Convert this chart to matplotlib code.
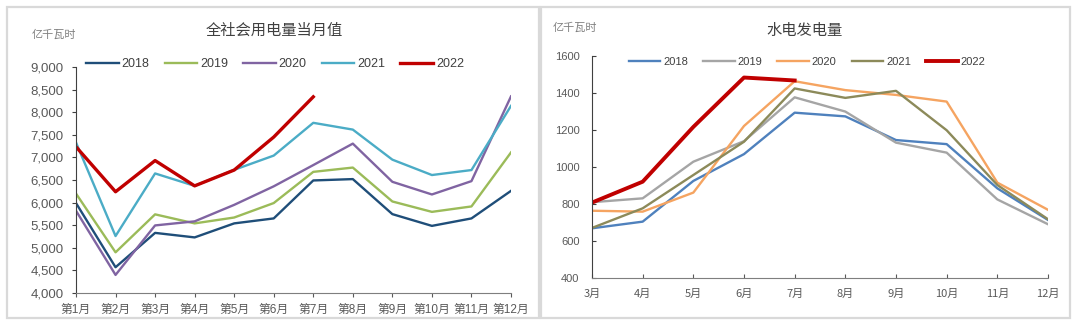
import numpy as np
import matplotlib.pyplot as plt
from matplotlib.patches import Rectangle

plt.rcParams['font.family'] = ['Liberation Sans', 'Noto Sans CJK SC']

# left panel: monthly total electricity consumption (亿千瓦时)
use_months = ['第1月', '第2月', '第3月', '第4月', '第5月', '第6月',
              '第7月', '第8月', '第9月', '第10月', '第11月', '第12月']
use_2018 = [5990, 4570, 5330, 5230, 5540, 5650, 6490, 6520, 5745, 5485, 5650, 6260]
use_2019 = [6200, 4900, 5740, 5540, 5670, 5990, 6680, 6775, 6025, 5795, 5915, 7110]
use_2020 = [5820, 4400, 5495, 5585, 5950, 6360, 6830, 7305, 6460, 6180, 6475, 8350]
use_2021 = [7330, 5260, 6645, 6370, 6725, 7040, 7765, 7615, 6950, 6610, 6720, 8140]
use_2022 = [7235, 6240, 6930, 6370, 6720, 7450, 8340]

# right panel: hydro power generation (亿千瓦时), March to December
hydro_months = ['3月', '4月', '5月', '6月', '7月', '8月', '9月', '10月', '11月', '12月']
hydro_2018 = [667, 703, 923, 1068, 1292, 1272, 1144, 1122, 883, 712]
hydro_2019 = [808, 829, 1027, 1138, 1375, 1298, 1130, 1076, 823, 689]
hydro_2020 = [762, 757, 860, 1220, 1462, 1414, 1388, 1352, 914, 767]
hydro_2021 = [669, 775, 955, 1135, 1423, 1372, 1410, 1197, 901, 716]
hydro_2022 = [806, 919, 1215, 1482, 1466]

years = ['2018', '2019', '2020', '2021', '2022']

fig = plt.figure(figsize=(10.8, 3.27), dpi=100)

# panel frames
for x0, x1 in [(7, 539), (541, 1070)]:
    fig.add_artist(Rectangle((x0 / 1080, 1 - 318 / 327), (x1 - x0) / 1080, 311 / 327,
                             transform=fig.transFigure, fill=False,
                             edgecolor='#D9D9D9', lw=1.6))

# ---------------- left chart ----------------
ax1 = fig.add_axes([76 / 1080, 1 - 293 / 327, 435 / 1080, 226 / 327])
left_colors = ['#1F4E79', '#9BBB59', '#8064A2', '#4BACC6', '#C00000']
left_data = [use_2018, use_2019, use_2020, use_2021, use_2022]
lines1 = []
for yr, vals, c in zip(years, left_data, left_colors):
    lw = 2.4 if yr == '2022' else 1.7
    ln, = ax1.plot(np.arange(len(vals)), vals, color=c, lw=lw, label=yr)
    lines1.append(ln)
ax1.set_xlim(0, 11)
ax1.set_ylim(4000, 9000)
ax1.set_yticks(np.arange(4000, 9001, 500))
ax1.set_yticklabels([f'{v:,}' for v in range(4000, 9001, 500)])
ax1.set_xticks(np.arange(12))
ax1.set_xticklabels(use_months, fontsize=8.5, color='#595959')
ax1.tick_params(axis='y', labelsize=9.5, labelcolor='#595959', length=3,
                direction='out', color='#404040', pad=6)
ax1.tick_params(axis='x', length=3, direction='out', color='#595959', pad=5)
for s in ['top', 'right']:
    ax1.spines[s].set_visible(False)
ax1.spines['left'].set_color('#404040')
ax1.spines['bottom'].set_color('#7F7F7F')

fig.text(274 / 1080, 1 - 30 / 327, '全社会用电量当月值', ha='center', va='center',
         fontsize=11, color='#404040', family=['Noto Sans CJK SC'])
fig.text(32 / 1080, 1 - 35 / 327, '亿千瓦时', ha='left', va='center',
         fontsize=8, color='#7F7F7F', family=['Noto Sans CJK SC'])
fig.legend(handles=lines1, loc='center', bbox_to_anchor=(275 / 1080, 1 - 64 / 327),
           ncol=5, frameon=False, fontsize=9, handlelength=2.6, handletextpad=0.25,
           columnspacing=1.2, labelcolor='#404040')

# ---------------- right chart ----------------
ax2 = fig.add_axes([592 / 1080, 1 - 277.7 / 327, 456 / 1080, 222 / 327])
right_colors = ['#4F81BD', '#A5A5A5', '#F5A461', '#8C8A5A', '#C00000']
right_data = [hydro_2018, hydro_2019, hydro_2020, hydro_2021, hydro_2022]
lines2 = []
for yr, vals, c in zip(years, right_data, right_colors):
    lw = 2.8 if yr == '2022' else 1.7
    ln, = ax2.plot(np.arange(len(vals)), vals, color=c, lw=lw, label=yr)
    lines2.append(ln)
ax2.set_xlim(0, 9)
ax2.set_ylim(400, 1600)
ax2.set_yticks(np.arange(400, 1601, 200))
ax2.set_xticks(np.arange(10))
ax2.set_xticklabels(hydro_months, family=['Noto Sans CJK SC'])
ax2.tick_params(axis='y', labelsize=8, labelcolor='#595959', length=3,
                direction='in', color='#404040', pad=9)
ax2.tick_params(axis='x', labelsize=8, labelcolor='#595959', length=3,
                direction='in', color='#595959', pad=8)
for s in ['top', 'right']:
    ax2.spines[s].set_visible(False)
ax2.spines['left'].set_color('#404040')
ax2.spines['bottom'].set_color('#7F7F7F')

fig.text(805 / 1080, 1 - 30 / 327, '水电发电量', ha='center', va='center',
         fontsize=11, color='#404040', family=['Noto Sans CJK SC'])
fig.text(553 / 1080, 1 - 28 / 327, '亿千瓦时', ha='left', va='center',
         fontsize=8, color='#7F7F7F', family=['Noto Sans CJK SC'])
fig.legend(handles=lines2, loc='center', bbox_to_anchor=(807 / 1080, 1 - 62 / 327),
           ncol=5, frameon=False, fontsize=8, handlelength=2.85, handletextpad=0.25,
           columnspacing=1.35, labelcolor='#404040')

fig.savefig('out.png', dpi=100)
